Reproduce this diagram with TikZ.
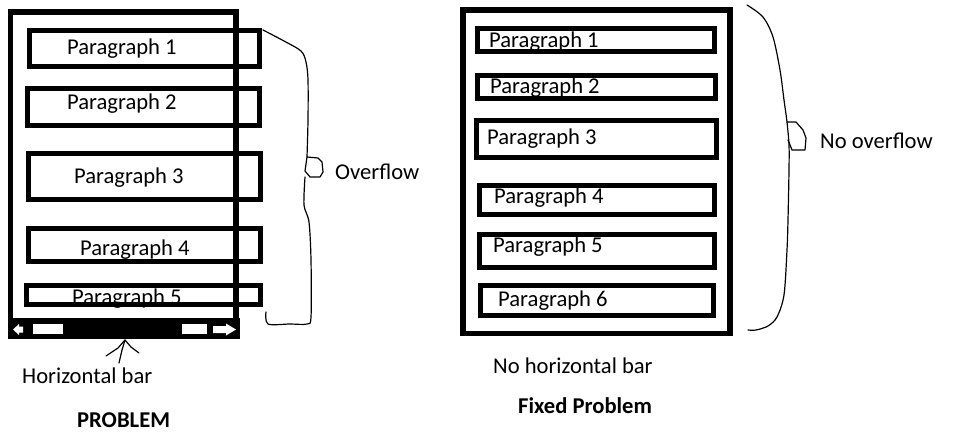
\documentclass[tikz,border=0pt]{standalone}
\usepackage{fontspec}
\setmainfont{Carlito}
\usepackage{tikz}
\usetikzlibrary{positioning}
\tikzset{
  frame/.style={draw=black,line width=5.5pt,inner sep=0pt},
  pbox/.style={draw=black,line width=5pt,inner sep=0pt},
  ptext/.style={anchor=base west,inner sep=0pt,font=\fontsize{22.6}{27}\selectfont},
  note/.style={anchor=base west,inner sep=0pt,font=\fontsize{22.6}{27}\selectfont},
  title/.style={anchor=base west,inner sep=0pt,font=\fontsize{22.6}{27}\selectfont\bfseries},
  hand/.style={draw=black,line width=1.2pt,line join=round,line cap=round},
}

\begin{document}
\begin{tikzpicture}[x=1pt,y=-1pt]
\useasboundingbox (0,0) rectangle (969,440);
% problem: paragraphs wider than the frame
\foreach \i/\cx/\cy/\w/\h/\tx/\ty in {
  1/144.5/48.5/230/36/67/54,
  2/143.5/107/232/37/67/109,
  3/144.5/176.5/232/46/74/183,
  4/144.5/245/232/33/80/255,
  5/143.5/295/234/19/72/304} {
  \begin{scope}
    \clip (\cx-\w/2-2.5,\cy-\h/2-2.5) rectangle (\cx+\w/2+2.5,\cy+\h/2+2.5);
    \node[ptext] (lt\i) at (\tx,\ty) {Paragraph \i};
  \end{scope}
  \node[pbox,minimum width=\w,minimum height=\h] (lp\i) at (\cx,\cy) {};
}
\node[frame,minimum width=225.5,minimum height=318] (lframe) at (123.25,171) {};
\node[fill=black,inner sep=0pt,minimum width=232,minimum height=21] (hbar) at (124,328.5) {};
\fill[white] (13,329.5) -- (19,324) -- (19,326.5) -- (23,326.5) -- (23,332.5) -- (19,332.5) -- (19,335) -- cycle;
\fill[white] (33,324) rectangle (63,334);
\fill[white] (182,324) rectangle (207,334);
\fill[white] (236,329.5) -- (226,323.5) -- (226,326) -- (213,326) -- (213,333) -- (226,333) -- (226,335.5) -- cycle;
\coordinate (ptip) at (125,340);
\coordinate (ptail) at (119,363);
\coordinate (pleft) at (106,356);
\coordinate (pright) at (139,353);
\draw[hand] (ptail) -- (122,350) -- (ptip);
\draw[hand] (pleft) -- (112,352) -- (118,348) -- (ptip) -- (131,347) -- (pright);
\draw[hand] plot[smooth,tension=0.5] coordinates {(263,30) (284,41) (301,51) (306,62) (308,80) (308,120) (307,157)};
\draw[hand] (307,157) -- (318,158) -- (322,162) -- (323,172) -- (320,177) -- (310,177) -- (305,171) -- (307,157);
\draw[hand] plot[smooth,tension=0.5] coordinates {(305,177) (304,205) (309,222) (311,260) (311,317) (307,324) (290,324) (268,324) (266,312)};
\node[note] (ovf) at (335,179) {Overflow};
\node[note] (hlabel) at (22,383) {Horizontal bar};
\node[title] (prob) at (77,427) {PROBLEM};
% fixed: everything fits
\foreach \i/\cx/\cy/\w/\h/\tx/\ty in {
  1/596/40/237/23/489/47,
  2/596.5/87/238/23/490/93,
  3/596.25/139/239.5/37/487/144,
  4/597/200/235/29/494/203,
  5/596.75/251/234.5/33/493/252,
  6/596.75/300.5/233.5/30/498/306} {
  \begin{scope}
    \clip (\cx-\w/2-2.5,\cy-\h/2-2.5) rectangle (\cx+\w/2+2.5,\cy+\h/2+2.5);
    \node[ptext] (rt\i) at (\tx,\ty) {Paragraph \i};
  \end{scope}
  \node[pbox,minimum width=\w,minimum height=\h] (rp\i) at (\cx,\cy) {};
}
\node[frame,minimum width=267,minimum height=323.5] (rframe) at (596.5,171.75) {};
\draw[hand] plot[smooth,tension=0.5] coordinates {(747,5) (763,17) (773,37) (780,70) (784,100) (787,122) (789,145) (789,170) (788,220) (787,250) (784,295) (777,317) (768,326) (756,330) (748,330)};
\draw[hand] (787,122) -- (796,122) -- (803,130) -- (806,138) -- (805,150) -- (792,150) -- (788,140);
\node[note] (novf) at (820,148) {No overflow};
\node[note] (nolabel) at (493,373) {No horizontal bar};
\node[title] (fixed) at (518,413) {Fixed Problem};
\end{tikzpicture}
\end{document}
